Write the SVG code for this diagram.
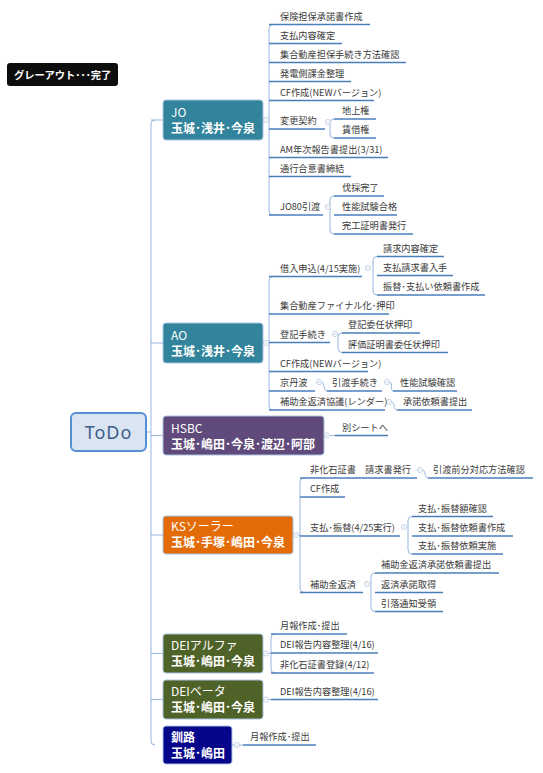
<svg xmlns="http://www.w3.org/2000/svg" width="543" height="773" viewBox="0 0 543 773">
<style>
.t{font-family:"Noto Sans CJK JP","Noto Sans",sans-serif;font-size:9.2px;fill:#3a3a3a}
.u{stroke:#4a7ebb;stroke-width:1.5;fill:none}
.c{stroke:#95b6e0;stroke-width:1;fill:none}
.k{fill:#fff;stroke:#b9c9dd;stroke-width:0.8}
.km{stroke:#b9c9dd;stroke-width:0.7}
.bx{stroke:#a9c2e2;stroke-width:1}
.b1{font-family:"Noto Sans CJK JP","Noto Sans",sans-serif;font-size:12px;fill:#fff}
.b2{font-family:"Noto Sans CJK JP","Noto Sans",sans-serif;font-size:12px;font-weight:bold;fill:#fff}
</style>
<defs>
<g id="col"><circle r="2.6" class="k"/><path d="M-1.4,0H1.4" class="km"/></g>
</defs>
<rect width="543" height="773" fill="#fff"/>

<g id="connectors">
<path class="c" d="M146,432H151M155,120Q151,120 151,124V741Q151,745 155,745M151,120H163M151,343H163M151,435.5H163M151,535H163M151,653.5H163M151,699.5H163"/>
<path class="c" d="M263,120H269M273,24.5Q269,24.5 269,28.5V211Q269,215 273,215"/>
<path class="c" d="M334,119Q330,119 330,123V134Q330,138 334,138"/>
<path class="c" d="M334,196Q330,196 330,200V230Q330,234 334,234"/>
<path class="c" d="M263,343H269M273,276.5Q269,276.5 269,280.5V406Q269,410 273,410"/>
<path class="c" d="M377,256.5Q373,256.5 373,260.5V291Q373,295 377,295"/>
<path class="c" d="M342,333Q338,333 338,337V348.5Q338,352.5 342,352.5"/>
<path class="c" d="M321.5,382C325,382 323,391 327,391M389.5,382C393,382 390,391 393,391M391.5,402C395,402 393,410 397,410"/>
<path class="c" d="M324,435.5H335"/>
<path class="c" d="M293,535H300M304,478Q300,478 300,482V588.5Q300,592.5 304,592.5"/>
<path class="c" d="M422.5,470C426,470 424,478 428,478"/>
<path class="c" d="M412,516.5Q408,516.5 408,520.5V550Q408,554 412,554"/>
<path class="c" d="M375,573Q371,573 371,577V607.5Q371,611.5 375,611.5"/>
<path class="c" d="M263,653.5H271M275,634Q271,634 271,638V669Q271,673 275,673"/>
<path class="c" d="M263,699.5H271"/>
<path class="c" d="M232,745H243"/>
<use href="#col" x="266" y="120"/>
<use href="#col" x="328" y="122"/>
<use href="#col" x="328" y="207"/>
<use href="#col" x="266" y="343"/>
<use href="#col" x="368" y="268"/>
<use href="#col" x="335" y="334"/>
<use href="#col" x="319" y="382"/>
<use href="#col" x="387" y="382"/>
<use href="#col" x="389" y="402"/>
<use href="#col" x="327" y="435.5"/>
<use href="#col" x="296" y="535"/>
<use href="#col" x="420" y="470"/>
<use href="#col" x="404" y="527"/>
<use href="#col" x="367" y="584"/>
<use href="#col" x="266" y="653.5"/>
<use href="#col" x="266" y="699.5"/>
<use href="#col" x="237" y="745"/>
</g>

<g id="legend">
<rect x="7" y="63" width="111" height="23" rx="3" fill="#0d0d0d"/>
<text x="14" y="78.5" font-family="'Noto Sans CJK JP','Noto Sans',sans-serif" font-size="10.3px" font-weight="bold" fill="#fff">グレーアウト･･･完了</text>
</g>

<g id="root">
<rect x="71" y="413" width="75" height="38" rx="5" fill="#dbe5f1" stroke="#558ed5" stroke-width="2"/>
<text x="108.5" y="438.5" text-anchor="middle" font-family="'Noto Sans','Open Sans',sans-serif" font-size="18px" letter-spacing="1" fill="#3b5c8c">ToDo</text>
</g>

<g id="jo">
<rect class="bx" x="163" y="100" width="100" height="40" rx="3" fill="#31849b"/>
<text class="b1" x="171" y="117">JO</text><text class="b2" x="171" y="133">玉城･浅井･今泉</text>
</g>
<g id="jo-1"><text class="t" x="280" y="19.5">保険担保承諾書作成</text><path class="u" d="M269,24.5H370"/></g>
<g id="jo-2"><text class="t" x="280" y="38.5">支払内容確定</text><path class="u" d="M269,43.5H342"/></g>
<g id="jo-3"><text class="t" x="280" y="57.5">集合動産担保手続き方法確認</text><path class="u" d="M269,62.5H406"/></g>
<g id="jo-4"><text class="t" x="280" y="76.5">発電側課金整理</text><path class="u" d="M269,81.5H351"/></g>
<g id="jo-5"><text class="t" x="280" y="95.5">CF作成(NEWバージョン)</text><path class="u" d="M269,100.5H374"/></g>
<g id="jo-6"><text class="t" x="280" y="124">変更契約</text><path class="u" d="M269,129H325"/></g>
<g id="jo-6a"><text class="t" x="342" y="114">地上権</text><path class="u" d="M334,119H376"/></g>
<g id="jo-6b"><text class="t" x="342" y="133">賃借権</text><path class="u" d="M334,138H376"/></g>
<g id="jo-7"><text class="t" x="280" y="152.5">AM年次報告書提出(3/31)</text><path class="u" d="M269,157.5H388"/></g>
<g id="jo-8"><text class="t" x="280" y="171.5">通行合意書締結</text><path class="u" d="M269,176.5H351"/></g>
<g id="jo-9"><text class="t" x="280" y="210">JO80引渡</text><path class="u" d="M269,215H323"/></g>
<g id="jo-9a"><text class="t" x="342" y="191">伐採完了</text><path class="u" d="M334,196H384"/></g>
<g id="jo-9b"><text class="t" x="342" y="210">性能試験合格</text><path class="u" d="M334,215H397"/></g>
<g id="jo-9c"><text class="t" x="342" y="229">完工証明書発行</text><path class="u" d="M334,234H413"/></g>

<g id="ao">
<rect class="bx" x="163" y="323" width="100" height="40" rx="3" fill="#31849b"/>
<text class="b1" x="171" y="340">AO</text><text class="b2" x="171" y="356">玉城･浅井･今泉</text>
</g>
<g id="ao-1"><text class="t" x="280" y="271.5">借入申込(4/15実施)</text><path class="u" d="M269,276.5H362"/></g>
<g id="ao-1a"><text class="t" x="383" y="251.5">請求内容確定</text><path class="u" d="M377,256.5H444"/></g>
<g id="ao-1b"><text class="t" x="383" y="270.5">支払請求書入手</text><path class="u" d="M377,275.5H453"/></g>
<g id="ao-1c"><text class="t" x="383" y="290">振替･支払い依頼書作成</text><path class="u" d="M377,295H485"/></g>
<g id="ao-2"><text class="t" x="280" y="309">集合動産ファイナル化･押印</text><path class="u" d="M269,314H389"/></g>
<g id="ao-3"><text class="t" x="280" y="337.5">登記手続き</text><path class="u" d="M269,342.5H330"/></g>
<g id="ao-3a"><text class="t" x="348" y="328">登記委任状押印</text><path class="u" d="M342,333H420"/></g>
<g id="ao-3b"><text class="t" x="348" y="347.5">評価証明書委任状押印</text><path class="u" d="M342,352.5H448"/></g>
<g id="ao-4"><text class="t" x="280" y="366.5">CF作成(NEWバージョン)</text><path class="u" d="M269,371.5H368"/></g>
<g id="ao-5"><text class="t" x="280" y="386">京丹波</text><path class="u" d="M269,391H315"/></g>
<g id="ao-5a"><text class="t" x="332" y="386">引渡手続き</text><path class="u" d="M327,391H382"/></g>
<g id="ao-5b"><text class="t" x="400" y="386">性能試験確認</text><path class="u" d="M393,391H457"/></g>
<g id="ao-6"><text class="t" x="280" y="405">補助金返済協議(レンダー)</text><path class="u" d="M269,410H385"/></g>
<g id="ao-6a"><text class="t" x="403" y="405">承諾依頼書提出</text><path class="u" d="M397,410H472"/></g>

<g id="hsbc">
<rect class="bx" x="163" y="416" width="161" height="39" rx="3" fill="#604a7b"/>
<text class="b1" x="171" y="432.5">HSBC</text><text class="b2" x="171" y="448.5">玉城･嶋田･今泉･渡辺･阿部</text>
</g>
<g id="hsbc-1"><text class="t" x="342" y="430.5">別シートへ</text><path class="u" d="M335,435.5H388"/></g>

<g id="ks">
<rect class="bx" x="163" y="516" width="130" height="38" rx="3" fill="#e36c09"/>
<text class="b1" x="171" y="531">KSソーラー</text><text class="b2" x="171" y="547">玉城･手塚･嶋田･今泉</text>
</g>
<g id="ks-1"><text class="t" x="310" y="473">非化石証書　請求書発行</text><path class="u" d="M300,478H417"/></g>
<g id="ks-1a"><text class="t" x="433" y="473">引渡前分対応方法確認</text><path class="u" d="M428,478H533"/></g>
<g id="ks-2"><text class="t" x="310" y="492">CF作成</text><path class="u" d="M300,497H345"/></g>
<g id="ks-3"><text class="t" x="310" y="531">支払･振替(4/25実行)</text><path class="u" d="M300,536H400"/></g>
<g id="ks-3a"><text class="t" x="418" y="511.5">支払･振替額確認</text><path class="u" d="M412,516.5H493"/></g>
<g id="ks-3b"><text class="t" x="418" y="531">支払･振替依頼書作成</text><path class="u" d="M412,536H513"/></g>
<g id="ks-3c"><text class="t" x="418" y="549">支払･振替依頼実施</text><path class="u" d="M412,554H503"/></g>
<g id="ks-4"><text class="t" x="310" y="587.5">補助金返済</text><path class="u" d="M300,592.5H363"/></g>
<g id="ks-4a"><text class="t" x="381" y="568">補助金返済承諾依頼書提出</text><path class="u" d="M375,573H499"/></g>
<g id="ks-4b"><text class="t" x="381" y="587.5">返済承諾取得</text><path class="u" d="M375,592.5H443"/></g>
<g id="ks-4c"><text class="t" x="381" y="606.5">引落通知受領</text><path class="u" d="M375,611.5H443"/></g>

<g id="dei-alpha">
<rect class="bx" x="163" y="634" width="100" height="39" rx="3" fill="#4f6228"/>
<text class="b1" x="171" y="649.5">DEIアルファ</text><text class="b2" x="171" y="665.5">玉城･嶋田･今泉</text>
</g>
<g id="dei-alpha-1"><text class="t" x="280" y="629">月報作成･提出</text><path class="u" d="M271,634H347"/></g>
<g id="dei-alpha-2"><text class="t" x="280" y="648">DEI報告内容整理(4/16)</text><path class="u" d="M271,653H378"/></g>
<g id="dei-alpha-3"><text class="t" x="280" y="668">非化石証書登録(4/12)</text><path class="u" d="M271,673H374"/></g>

<g id="dei-beta">
<rect class="bx" x="163" y="680" width="100" height="39" rx="3" fill="#4f6228"/>
<text class="b1" x="171" y="695.5">DEIベータ</text><text class="b2" x="171" y="711.5">玉城･嶋田･今泉</text>
</g>
<g id="dei-beta-1"><text class="t" x="280" y="694.5">DEI報告内容整理(4/16)</text><path class="u" d="M271,699.5H378"/></g>

<g id="kushiro">
<rect class="bx" x="163" y="726" width="69" height="38" rx="3" fill="#06068a"/>
<text class="b2" x="171" y="741.5">釧路</text><text class="b2" x="171" y="757.5">玉城･嶋田</text>
</g>
<g id="kushiro-1"><text class="t" x="250" y="740">月報作成･提出</text><path class="u" d="M243,745H316"/></g>
</svg>
